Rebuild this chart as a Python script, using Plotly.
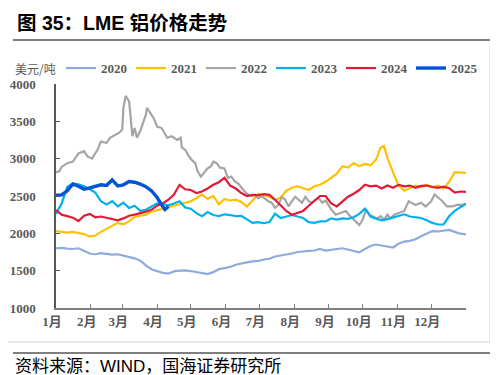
import plotly.graph_objects as go

# ---------------- data ----------------
month_labels = ["1月", "2月", "3月", "4月", "5月", "6月", "7月", "8月", "9月", "10月", "11月", "12月"]
month_start_days = [0, 31, 59, 90, 120, 151, 181, 212, 243, 273, 304, 334]

grid_days = list(range(0, 366, 5))  # day-of-year sampling used for several series

days_2020 = grid_days
val_2020 = [1800, 1805, 1795, 1790, 1800, 1760, 1730, 1720, 1735, 1725,
            1715, 1720, 1700, 1690, 1665, 1635, 1570, 1520, 1495, 1470,
            1460, 1490, 1500, 1505, 1495, 1485, 1470, 1455, 1480, 1520,
            1535, 1550, 1580, 1600, 1610, 1625, 1630, 1650, 1660, 1690,
            1700, 1710, 1730, 1750, 1760, 1765, 1770, 1790, 1770, 1775,
            1790, 1800, 1785, 1760, 1745, 1790, 1830, 1850, 1840, 1820,
            1810, 1860, 1890, 1900, 1920, 1960, 1990, 2030, 2025, 2030,
            2045, 2020, 1995, 1985]

days_2021 = [0, 5, 10, 15, 20, 25, 30, 35, 40, 45, 50, 55, 60, 65, 70, 75, 80, 85, 90, 95,
             100, 105, 110, 115, 120, 125, 130, 135, 140, 145, 150, 155, 160, 165, 170, 175,
             180, 185, 190, 195, 200, 205, 210, 215, 220, 225, 230, 235, 240, 245, 250, 255,
             260, 265, 270, 275, 280, 285, 289, 292, 295, 300, 305, 310, 315, 320, 325, 330,
             335, 340, 345, 350, 355, 360, 365]
val_2021 = [2030, 2020, 2010, 2020, 2000, 1990, 1955, 1970, 2020, 2060,
            2110, 2140, 2120, 2160, 2220, 2240, 2250, 2290, 2310, 2330,
            2350, 2360, 2380, 2400, 2430, 2470, 2520, 2460, 2500, 2390,
            2460, 2440, 2450, 2420, 2360, 2440, 2530, 2510, 2490, 2450,
            2480, 2570, 2610, 2630, 2610, 2580, 2630, 2650, 2690, 2740,
            2800, 2900, 2880, 2940, 2900, 2930, 2910, 2990,
            3150, 3170, 3010,
            2820, 2640, 2570, 2600, 2640, 2620, 2650, 2620, 2640, 2600, 2690, 2820, 2810, 2810]

days_2022 = [0, 3, 5, 10, 15, 20, 25, 28, 32, 37,
             40, 45, 48, 53, 56, 59, 60, 62, 65, 66,
             68, 70, 72, 75, 80, 81, 84, 87, 90, 94,
             99, 103, 108, 111, 112, 115, 118, 121, 124, 126,
             129, 132, 135, 138, 140, 143, 146, 150, 153, 156,
             159, 162, 165, 168, 171, 174, 177, 180, 183, 189,
             192, 195, 198, 201, 204, 207, 210, 213, 216, 219,
             222, 225, 228, 231, 234, 237, 240, 245, 249, 253,
             258, 262, 267, 270, 273, 276, 279, 282, 286, 289,
             292, 295, 298, 301, 305, 310, 314, 317, 320, 325,
             329, 334, 337, 341, 344, 348, 353, 357, 362, 365]
val_2022 = [2820, 2830, 2890, 2940, 2960, 3070, 3100, 3030, 3000, 3120,
            3230, 3210, 3280, 3320, 3345, 3390, 3680, 3840, 3770, 3630,
            3300, 3410, 3280, 3370, 3590, 3680, 3610, 3540, 3430, 3410,
            3280, 3300, 3250, 3280, 3150, 3120, 3040, 2980, 2940, 2830,
            2760, 2810, 2870, 2900, 2960, 2940, 2880, 2870, 2740, 2760,
            2700, 2670, 2610, 2560, 2520, 2500, 2520, 2470, 2500, 2430,
            2410, 2340, 2380, 2490, 2450, 2360, 2430, 2490, 2450, 2410,
            2490, 2430, 2410, 2450, 2470, 2410, 2440, 2320, 2250, 2270,
            2300, 2230, 2160, 2110, 2180, 2320, 2250, 2230, 2200, 2230,
            2180, 2250, 2200, 2250, 2270, 2300, 2430, 2410, 2380, 2410,
            2360, 2430, 2520, 2470, 2430, 2360, 2360, 2380, 2380, 2400]

days_2023 = grid_days
val_2023 = [2260, 2400, 2620, 2670, 2655, 2630, 2590, 2545, 2430, 2385,
            2430, 2360, 2410, 2340, 2370, 2300, 2315, 2355, 2400, 2390,
            2375, 2400, 2430, 2345, 2330, 2270, 2230, 2285, 2245, 2230,
            2255, 2245, 2230, 2235, 2190, 2140, 2150, 2135, 2150, 2265,
            2205, 2220, 2245, 2225, 2205, 2150, 2140, 2160, 2160, 2200,
            2185, 2200, 2195, 2215, 2260, 2330, 2225, 2195, 2175, 2190,
            2210, 2228, 2255, 2225, 2218, 2205, 2175, 2140, 2118, 2120,
            2228, 2300, 2350, 2395]

days_2024 = grid_days
val_2024 = [2310, 2250, 2230, 2210, 2165, 2235, 2260, 2215, 2225, 2205,
            2195, 2175, 2200, 2235, 2250, 2265, 2290, 2315, 2370, 2400,
            2450, 2520, 2650, 2590, 2580, 2540, 2560, 2600, 2650, 2685,
            2745, 2640, 2600, 2540, 2500, 2515, 2510, 2525, 2515, 2450,
            2370, 2300, 2250, 2280, 2300, 2370, 2440, 2500, 2500, 2400,
            2360, 2430, 2490, 2530, 2580, 2650, 2630, 2640, 2600, 2640,
            2610, 2650, 2630, 2640, 2610, 2635, 2640, 2620, 2610, 2625,
            2605, 2545, 2560, 2555]

days_2025 = [0, 5, 10, 15, 20, 25, 30, 35, 40, 45, 50, 55, 60, 65, 70, 75, 80, 85, 90, 95, 97, 100]
val_2025 = [2510, 2515, 2570, 2660, 2630, 2590, 2610, 2625, 2650, 2640,
            2715, 2635, 2650, 2695, 2685, 2660, 2625, 2570, 2480, 2360, 2320, 2360]

series_names = ["2020", "2021", "2022", "2023", "2024", "2025"]
series_days = [days_2020, days_2021, days_2022, days_2023, days_2024, days_2025]
series_vals = [val_2020, val_2021, val_2022, val_2023, val_2024, val_2025]
series_colors = ["#8FAADC", "#FFC000", "#A5A5A5", "#00B0F0", "#E31A36", "#0055D4"]
series_widths = [2.2, 2.2, 2.2, 2.2, 2.2, 3.4]

y_ticks = [1000, 1500, 2000, 2500, 3000, 3500, 4000]

# ---------------- figure ----------------
fig = go.Figure()
for name, d, v, c, w in zip(series_names, series_days, series_vals, series_colors, series_widths):
    fig.add_trace(go.Scatter(x=d, y=v, mode="lines", name=name,
                             line=dict(color=c, width=w)))

tick_font = dict(family="Liberation Serif, Noto Sans CJK SC", size=13, color="#595959", weight="bold")

fig.update_layout(
    width=498, height=375, autosize=False,
    margin=dict(l=48, r=40, t=76, b=75, autoexpand=False),
    paper_bgcolor="white", plot_bgcolor="white",
    showlegend=True,
    legend=dict(orientation="h", x=-0.005, y=1.071, xanchor="left", yanchor="middle",
                font=dict(family="Liberation Serif", size=13, color="#595959", weight="bold"),
                bgcolor="rgba(0,0,0,0)", bordercolor="rgba(0,0,0,0)", borderwidth=7,
                itemwidth=30, traceorder="normal",
                entrywidth=25, entrywidthmode="pixels"),
    xaxis=dict(range=[0, 365], tickmode="array", tickvals=month_start_days, ticktext=month_labels,
               ticks="inside", ticklen=4, tickcolor="#7F7F7F", tickwidth=1,
               showline=True, linecolor="#7F7F7F", linewidth=2,
               showgrid=False, zeroline=False, tickfont=tick_font,
               ticklabelshift=-4, ticklabelstandoff=0),
    yaxis=dict(range=[1000, 4000], tickmode="array", tickvals=y_ticks,
               ticks="inside", ticklen=4, tickcolor="#595959", tickwidth=1,
               showline=True, linecolor="#595959", linewidth=1.5,
               showgrid=False, zeroline=False, tickfont=tick_font,
               ticklabelstandoff=16),
)

fig.add_annotation(xref="paper", yref="paper", x=-0.105, y=1.071, xanchor="left", yanchor="middle",
                   text="美元/吨", showarrow=False,
                   font=dict(family="Noto Sans CJK SC", size=12, color="#595959"))
fig.add_annotation(xref="paper", yref="paper", x=-0.1, y=1.272, xanchor="left", yanchor="middle",
                   text="<b>图 35：LME 铝价格走势</b>", showarrow=False,
                   font=dict(family="Liberation Sans, Noto Sans CJK SC", size=19.5, color="#000000"))
fig.add_annotation(xref="paper", yref="paper", x=-0.105, y=-0.259, xanchor="left", yanchor="middle",
                   text="资料来源：WIND，国海证券研究所", showarrow=False,
                   font=dict(family="Liberation Sans, Noto Sans CJK SC", size=17, color="#000000"))

# title underline, frame, footer line
fig.add_shape(type="line", xref="paper", yref="paper", x0=-0.105, x1=1.085, y0=1.196, y1=1.196,
              line=dict(color="#7F7F7F", width=2))
fig.add_shape(type="line", xref="paper", yref="paper", x0=1.0585, x1=1.0585, y0=1.17, y1=-0.152,
              line=dict(color="#D0D0D0", width=1))
fig.add_shape(type="line", xref="paper", yref="paper", x0=-0.12, x1=1.0585, y0=-0.152, y1=-0.152,
              line=dict(color="#D0D0D0", width=1))
fig.add_shape(type="line", xref="paper", yref="paper", x0=-0.105, x1=1.085, y0=-0.2009, y1=-0.2009,
              line=dict(color="#7F7F7F", width=2))

fig.write_html("out.html")
